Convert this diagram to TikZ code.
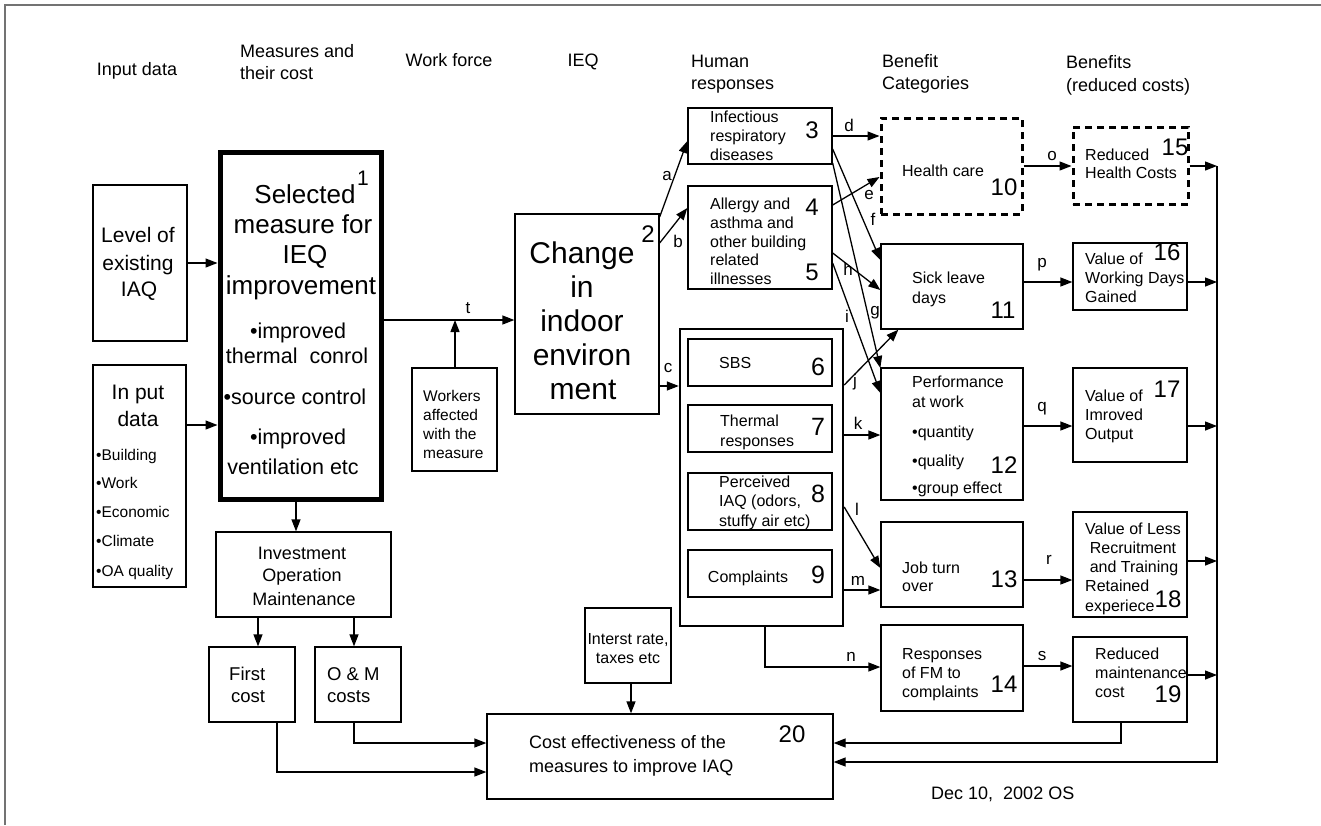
\documentclass[tikz,border=0pt]{standalone}
\usepackage{fontspec}
\setmainfont{Liberation Sans}
\usetikzlibrary{arrows.meta,calc}
\newcommand{\fsz}[1]{\fontsize{#1}{#1}\selectfont}
\newcommand{\txtlines}[3]{\foreach \xx/\yy/\tx [count=\kk] in {#3} {\node[#2] (#1\kk) at (\xx,\yy+1.5) {\tx};}}
\begin{document}
\begin{tikzpicture}[x=1pt,y=-1pt,
  box/.style={draw, line width=1.3pt, inner sep=0pt},
  thickbox/.style={draw, line width=5pt, inner sep=0pt},
  midbox/.style={draw, line width=2.4pt, inner sep=0pt},
  dashbox/.style={draw, line width=3pt, dash pattern=on 7pt off 5pt, inner sep=0pt},
  arr/.style={line width=1.3pt, -{Triangle[length=12pt,width=9pt]}},
  ln/.style={line width=1.3pt},
  tl/.style={inner sep=0pt, anchor=mid west},
  tc/.style={inner sep=0pt, anchor=mid},
  hd/.style={font=\fsz{18}},
  sm/.style={font=\fsz{16}},
  num/.style={inner sep=0pt, anchor=mid, yshift=-2.5pt, font=\fsz{24}},
  elab/.style={inner sep=0pt, anchor=mid, font=\fsz{17}},
]
\useasboundingbox (0,0) rectangle (1321,825);
\draw[line width=2pt, black!55] (5,825) -- (5,5) -- (1321,5);

% ---------- boxes ----------
\node[box, minimum width=94, minimum height=156] (lvl) at (140,263) {};
\node[box, minimum width=93, minimum height=222] (inp) at (139.5,476) {};
\node[thickbox, minimum width=161, minimum height=347] (bA) at (300.5,325.5) {};
\node[box, minimum width=85, minimum height=103] (wrk) at (454.5,419.5) {};
\node[box, minimum width=144, minimum height=200] (bB) at (587,314) {};
\node[box, minimum width=144, minimum height=56] (b3) at (760,136) {};
\node[box, minimum width=144, minimum height=103] (b45) at (760,237.5) {};
\node[midbox, minimum width=163, minimum height=297] (big) at (761.5,477.5) {};
\node[box, minimum width=144, minimum height=47] (b6) at (760,362.5) {};
\node[box, minimum width=144, minimum height=47] (b7) at (760,428.5) {};
\node[box, minimum width=144, minimum height=57] (b8) at (760,501.5) {};
\node[box, minimum width=144, minimum height=47] (b9) at (760,573.5) {};
\node[dashbox, minimum width=141, minimum height=96] (b10) at (951.5,166) {};
\node[box, minimum width=142, minimum height=85] (b11) at (952,286.5) {};
\node[box, minimum width=142, minimum height=132] (b12) at (952,434) {};
\node[box, minimum width=142, minimum height=85] (b13) at (952,564.5) {};
\node[box, minimum width=142, minimum height=86] (b14) at (952,668) {};
\node[dashbox, minimum width=115, minimum height=77] (b15) at (1130.5,165.5) {};
\node[box, minimum width=114, minimum height=67] (b16) at (1130,276.5) {};
\node[box, minimum width=114, minimum height=94] (b17) at (1130,415) {};
\node[box, minimum width=114, minimum height=105] (b18) at (1130,564.5) {};
\node[box, minimum width=114, minimum height=85] (b19) at (1130,679.5) {};
\node[box, minimum width=346, minimum height=85] (b20) at (660,756.5) {};
\node[box, minimum width=86, minimum height=75] (irt) at (628,645.5) {};
\node[box, minimum width=175, minimum height=85] (inv) at (303.5,574.5) {};
\node[box, minimum width=86, minimum height=75] (fc) at (252,684.5) {};
\node[box, minimum width=86, minimum height=75] (om) at (358,684.5) {};

% ---------- texts ----------
\txtlines{hA}{tc,hd}{137/71/Input data, 449/62/Work force, 583/62/IEQ}
\txtlines{hB}{tl,hd}{240/53/Measures and, 240/75/their cost, 691/63/Human, 691/85/responses, 882/63/Benefit, 882/85/Categories, 1066/64/Benefits, 1066/87/(reduced costs)}
\txtlines{lv}{tc,font=\fsz{21}}{138/238/Level of, 138/266/existing, 139/292/IAQ}
\txtlines{ip}{tc,font=\fsz{21}}{138/395/In put, 138/422/data}
\txtlines{ib}{tl,font=\fsz{15.5}}{96/456/•Building, 96/484/•Work, 96/513/•Economic, 96/542/•Climate, 96/572/•OA quality}
\txtlines{sA}{tc,font=\fsz{26}}{305/199/Selected, 303/229/measure for, 305/259/IEQ, 301/290/improvement}
\txtlines{sB}{tc,font=\fsz{21.5}}{298/334/•improved, 297/359/thermal~~conrol, 295/400/•source control, 298/440/•improved, 293/470/ventilation etc}
\txtlines{cc}{tc,font=\fsz{30}}{582/259/Change, 582/293/in, 582/327/indoor, 582/361/environ, 583/395/ment}
\txtlines{wk}{tl,font=\fsz{15.5}}{423/397/Workers, 423/416/affected, 423/435/with the, 423/454/measure}
\txtlines{tA}{tl,sm}{710/118/Infectious, 710/137/respiratory, 710/156/diseases}
\txtlines{tB}{tl,sm}{710/205/Allergy and, 710/224/asthma and, 710/243/other building, 710/261/related, 710/280/illnesses}
\txtlines{tC}{tl,sm}{719/364/SBS}
\txtlines{tD}{tl,sm}{720/422/Thermal, 720/442/responses}
\txtlines{tE}{tl,sm}{719/483/Perceived, 719/502/{IAQ (odors,}, 719/522/stuffy air etc)}
\txtlines{tF}{tc,sm}{748/578/Complaints}
\txtlines{tG}{tc,sm}{943/172/Health care}
\txtlines{tH}{tl,sm}{1085/156/Reduced, 1085/174/Health Costs}
\txtlines{tI}{tl,sm}{912/279/Sick leave, 912/299/days}
\txtlines{tJ}{tl,sm}{1085/260/Value of, 1085/279/Working Days, 1085/298/Gained}
\txtlines{tK}{tl,sm}{912/383/Performance, 912/403/at work, 912/433/•quantity, 912/462/•quality, 912/489/•group effect}
\txtlines{tL}{tl,sm}{1085/397/Value of, 1085/416/Imroved, 1085/435/Output}
\txtlines{tM}{tl,sm}{902/569/Job turn, 902/587/over}
\txtlines{tN}{tc,sm}{1133/530/Value of Less, 1133/549/Recruitment, 1134/568/and Training}
\txtlines{tO}{tl,sm}{1085/587/Retained, 1085/607/experiece}
\txtlines{tP}{tl,sm}{902/655/Responses, 902/674/of FM to, 902/693/complaints}
\txtlines{tQ}{tl,sm}{1095/655/Reduced, 1095/674/maintenance, 1095/693/cost}
\txtlines{tR}{tc,sm}{628/640/{Interst rate,}, 628/659/taxes etc}
\txtlines{tS}{tl,font=\fsz{18}}{529/744/Cost effectiveness of the, 529/768/measures to improve IAQ}
\txtlines{tT}{tc,font=\fsz{18}}{302/555/Investment, 302/577/Operation, 304/601/Maintenance}
\txtlines{tU}{tl,font=\fsz{18.5}}{229/676/First, 231/698/cost}
\txtlines{tV}{tl,font=\fsz{18.5}}{327/676/O \& M, 327/698/costs}
\node[tl,font=\fsz{18}] (date) at (931,796.5) {Dec 10,~~2002 OS};

% numbers
\node[num,font=\fsz{21}] (n1) at (363,180) {1};
\node[num] (n2) at (648,237) {2};
\node[num] (n3) at (812,133) {3};
\node[num] (n4) at (812,210) {4};
\node[num] (n5) at (812,275) {5};
\node[num,font=\fsz{25}] (n6) at (818,370) {6};
\node[num,font=\fsz{25}] (n7) at (818,430) {7};
\node[num,font=\fsz{25}] (n8) at (818,497) {8};
\node[num,font=\fsz{25}] (n9) at (818,578) {9};
\node[num] (n10) at (1004,190) {10};
\node[num] (n11) at (1003,313) {11};
\node[num] (n12) at (1004,468) {12};
\node[num] (n13) at (1004,582) {13};
\node[num] (n14) at (1004,687) {14};
\node[num] (n15) at (1175,150) {15};
\node[num] (n16) at (1167,255) {16};
\node[num] (n17) at (1167,392) {17};
\node[num] (n18) at (1168,602) {18};
\node[num] (n19) at (1168,697) {19};
\node[num] (n20) at (792,737) {20};

% ---------- connectors ----------
\coordinate (tj) at (455,320);
\coordinate (r15) at (1217,166);
\coordinate (r16) at (1217,282);
\coordinate (r17) at (1217,426);
\coordinate (r18) at (1217,561);
\coordinate (r19) at (1217,675);

\draw[arr] (lvl.east |- 0,263) -- (bA.west |- 0,263);
\draw[arr] (inp.east |- 0,425) -- (bA.west |- 0,425);
\draw[arr] (bA.east |- 0,320) -- (bB.west |- 0,320);
\draw[arr] (wrk.north -| tj) -- (tj);
\draw[arr] (bB.east |- 0,217) -- (b3.west |- 0,141);
\draw[arr] (bB.east |- 0,243) -- (b45.west |- 0,208);
\draw[arr] (bB.east |- 0,386) -- (big.west |- 0,386);
\draw[arr] (b3.east |- 0,136) -- (b10.west |- 0,136);
\draw[arr] (b45.east |- 0,205) -- (b10.west |- 0,177);
\draw[arr] (b3.east |- 0,149) -- (b11.west |- 0,260);
\draw[arr] (b3.east |- 0,163) -- (b12.west |- 0,368);
\draw[arr] (b45.east |- 0,253) -- (b11.west |- 0,290);
\draw[arr] (b45.east |- 0,263) -- (b12.west |- 0,393);
\draw[arr] (big.east |- 0,385) -- ($(b11.south west)+(18,0)$);
\draw[arr] (big.east |- 0,435) -- (b12.west |- 0,435);
\draw[arr] (big.east |- 0,507) -- (b13.west |- 0,568);
\draw[arr] (big.east |- 0,590) -- (b13.west |- 0,590);
\draw[arr] (big.south -| 765,0) |- (b14.west |- 0,667);
\draw[arr] (b10.east |- 0,166) -- (b15.west |- 0,166);
\draw[arr] (b11.east |- 0,282) -- (b16.west |- 0,282);
\draw[arr] (b12.east |- 0,426) -- (b17.west |- 0,426);
\draw[arr] (b13.east |- 0,580) -- (b18.west |- 0,580);
\draw[arr] (b14.east |- 0,666) -- (b19.west |- 0,666);
\draw[arr] (b15.east |- r15) -- (r15);
\draw[arr] (b16.east |- r16) -- (r16);
\draw[arr] (b17.east |- r17) -- (r17);
\draw[arr] (b18.east |- r18) -- (r18);
\draw[arr] (b19.east |- r19) -- (r19);
\draw[arr] (r15) |- (b20.east |- 0,762);
\draw[arr] (b19.south -| 1121,0) |- (b20.east |- 0,743);
\draw[arr] (irt.south -| 631,0) -- (b20.north -| 631,0);
\draw[arr] (bA.south -| 296,0) -- (inv.north -| 296,0);
\draw[arr] (inv.south -| 258,0) -- (fc.north -| 258,0);
\draw[arr] (inv.south -| 354,0) -- (om.north -| 354,0);
\draw[arr] (om.south -| 354,0) |- (b20.west |- 0,743);
\draw[arr] (fc.south -| 277,0) |- (b20.west |- 0,772);

% edge labels
\node[elab] (la) at (667,178) {a};
\node[elab] (lb) at (678,245) {b};
\node[elab] (lc) at (668,370) {c};
\node[elab] (ld) at (849,129) {d};
\node[elab] (le) at (869,197) {e};
\node[elab] (lf) at (873,223) {f};
\node[elab] (lg) at (875,313) {g};
\node[elab] (lh) at (848,273) {h};
\node[elab] (li) at (847,320) {i};
\node[elab] (lj) at (855,384) {j};
\node[elab] (lk) at (858,427) {k};
\node[elab] (ll) at (857,513) {l};
\node[elab] (lm) at (858,583) {m};
\node[elab] (ln) at (851,659) {n};
\node[elab] (lo) at (1052,158) {o};
\node[elab] (lp) at (1042,265) {p};
\node[elab] (lq) at (1042,409) {q};
\node[elab] (lr) at (1049,562) {r};
\node[elab] (ls) at (1042,658) {s};
\node[elab] (lt) at (468,311) {t};
\end{tikzpicture}
\end{document}
